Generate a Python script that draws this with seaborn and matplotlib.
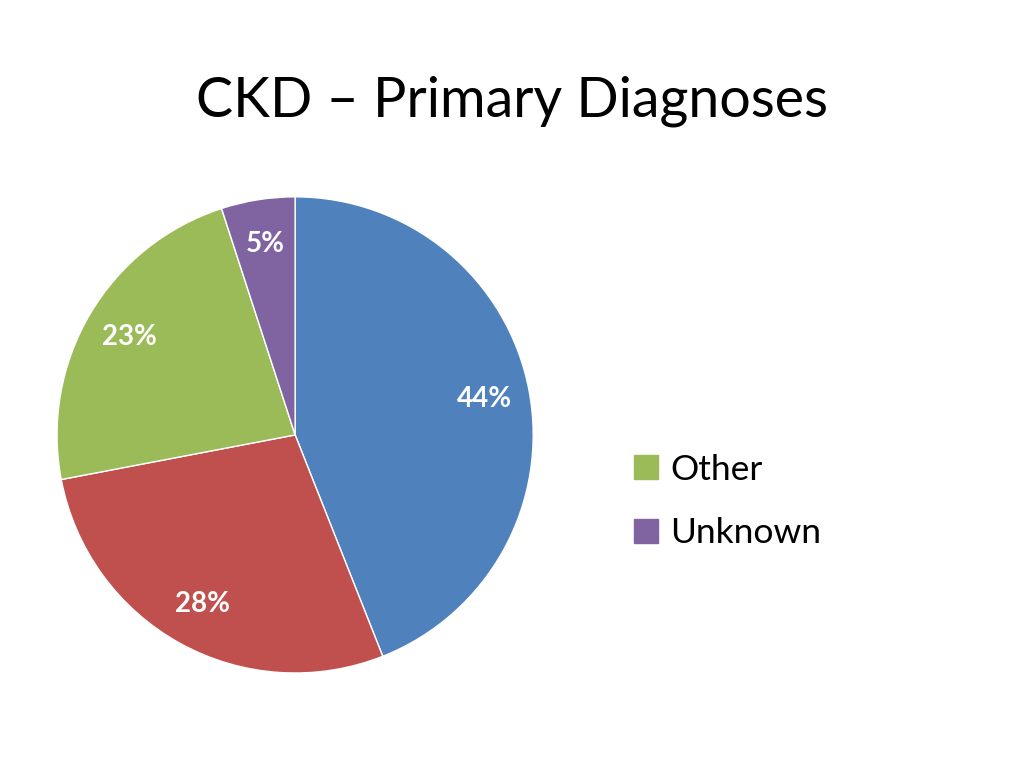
import matplotlib
matplotlib.use("Agg")
import matplotlib.pyplot as plt
import matplotlib.patches as mpatches
import seaborn as sns

# data
categories = ["Diabetes", "Hypertension", "Other", "Unknown"]
shares = [44, 28, 23, 5]
colors = sns.color_palette(["#4F81BD", "#C0504D", "#9BBB59", "#8064A2"])
legend_items = ["Other", "Unknown"]

sns.set_theme(style="white")
plt.rcParams['font.family'] = ['Lato', 'DejaVu Sans']

fig = plt.figure(figsize=(10.24, 7.68), dpi=100)
fig.patch.set_facecolor("white")

ax = fig.add_axes([0.0557, 0.1237, 0.465, 0.620])
wedges, texts, autotexts = ax.pie(
    shares,
    colors=colors,
    startangle=90,
    counterclock=False,
    autopct=lambda p: f"{p:.0f}%",
    pctdistance=0.81,
    radius=1,
    wedgeprops=dict(edgecolor="white", linewidth=1),
    textprops=dict(color="white", fontsize=20, fontweight="bold"),
)
ax.set_xlim(-1, 1)
ax.set_ylim(-1, 1)
ax.set_aspect("equal")
ax.axis("off")

fig.text(0.5, 0.868, "CKD \u2013 Primary Diagnoses", ha="center", va="center",
         fontsize=40, color="black")

handles = [mpatches.Patch(color=colors[categories.index(n)], label=n) for n in legend_items]
leg = fig.legend(handles=handles, loc="center left", bbox_to_anchor=(0.588, 0.347),
                 frameon=False, fontsize=25.5, handlelength=0.68, handleheight=0.68,
                 handletextpad=0.35, labelspacing=0.9)
for t in leg.get_texts():
    t.set_color("black")

plt.savefig("out.png", dpi=100)
